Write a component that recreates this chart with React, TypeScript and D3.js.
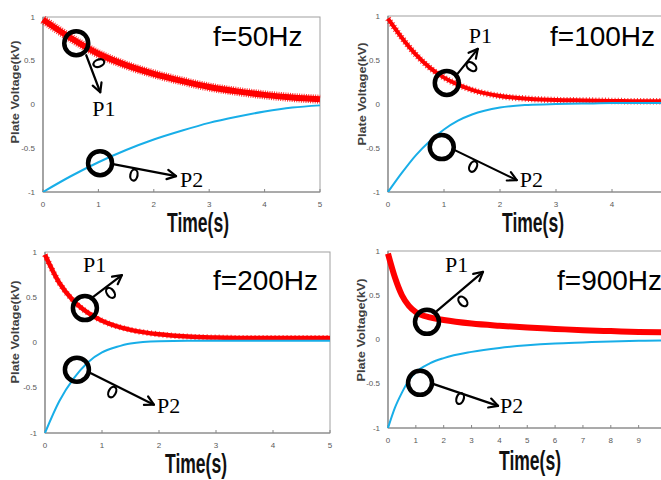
import React from 'react';
import * as d3 from 'd3';

const W = 661;
const H = 480;

// ---- data: plate voltages (kV) over time (s) ----
const time50 = [0, 0.5, 1, 1.5, 2, 2.5, 3, 3.5, 4, 4.5, 5];
const p1At50 = [0.97, 0.76, 0.58, 0.45, 0.35, 0.27, 0.2, 0.15, 0.11, 0.08, 0.06];
const p2At50 = [-1, -0.82, -0.66, -0.52, -0.4, -0.3, -0.21, -0.14, -0.08, -0.035, -0.01];

const time100 = [0, 0.25, 0.5, 0.75, 1, 1.25, 1.5, 2, 2.5, 3, 3.5, 4, 4.5, 5];
const p1At100 = [0.97, 0.75, 0.56, 0.41, 0.3, 0.22, 0.16, 0.09, 0.06, 0.045, 0.04, 0.035, 0.03, 0.03];
const p2At100 = [-1, -0.78, -0.58, -0.42, -0.29, -0.19, -0.12, -0.04, -0.01, 0, 0.005, 0.01, 0.01, 0.01];

const time200 = [0, 0.25, 0.5, 0.75, 1, 1.25, 1.5, 2, 2.5, 3, 3.5, 4, 4.5, 5];
const p1At200 = [0.97, 0.66, 0.46, 0.33, 0.24, 0.18, 0.14, 0.09, 0.065, 0.055, 0.05, 0.05, 0.05, 0.05];
const p2At200 = [-1, -0.65, -0.4, -0.22, -0.11, -0.05, -0.01, 0.015, 0.02, 0.02, 0.02, 0.02, 0.02, 0.02];

const time900 = [0, 0.25, 0.5, 0.75, 1, 1.5, 2, 3, 4, 5, 6, 7, 8, 9, 10];
const p1At900 = [0.97, 0.7, 0.5, 0.38, 0.31, 0.25, 0.22, 0.18, 0.155, 0.135, 0.12, 0.105, 0.095, 0.085, 0.08];
const p2At900 = [-1, -0.77, -0.6, -0.46, -0.37, -0.27, -0.21, -0.14, -0.095, -0.065, -0.045, -0.033, -0.022, -0.015, -0.01];

const yTicks = [1, 0.5, 0, -0.5, -1];
const xTicks5 = [0, 1, 2, 3, 4, 5];
const xTicks10 = [0, 1, 2, 3, 4, 5, 6, 7, 8, 9, 10];

const RED = '#ff0000';
const BLUE = '#18aee8';
const SANS = '"Liberation Sans", Arial, sans-serif';
const SERIF = '"Liberation Serif", "Times New Roman", serif';

type Note = {
  label: string;
  t: number;
  v: number;
  start: [number, number];
  loop: [number, number];
  tip: [number, number];
  text: [number, number];
  side: number;
};

type Panel = {
  freq: string;
  time: number[];
  p1: number[];
  p2: number[];
  xMax: number;
  xTicks: number[];
  left: number;
  right: number;
  top: number;
  bottom: number;
  freqPos: [number, number];
  yTitle: [number, number];
  xTitle: [number, number];
  redWidth: number;
  rippleWidth: number;
  rippleDash: string;
  notes: Note[];
};

const panels: Panel[] = [
  {
    freq: 'f=50Hz', time: time50, p1: p1At50, p2: p2At50, xMax: 5, xTicks: xTicks5,
    left: 43, right: 320, top: 17, bottom: 192,
    freqPos: [213, 46], yTitle: [15, 92], xTitle: [198, 232],
    redWidth: 6, rippleWidth: 9, rippleDash: '1 1.3',
    notes: [
      { label: 'P1', t: 0.6, v: 0.7, start: [10, 12], loop: [17, 22], tip: [24, 49], text: [16, 73], side: -1 },
      { label: 'P2', t: 1.03, v: -0.67, start: [13, 1], loop: [35, 6], tip: [76, 13], text: [80, 24], side: 1 },
    ],
  },
  {
    freq: 'f=100Hz', time: time100, p1: p1At100, p2: p2At100, xMax: 5, xTicks: xTicks5,
    left: 388, right: 668, top: 16, bottom: 192,
    freqPos: [550, 46], yTitle: [362, 94], xTitle: [533, 232],
    redWidth: 4, rippleWidth: 6.5, rippleDash: '1 2.2',
    notes: [
      { label: 'P1', t: 1.05, v: 0.24, start: [9, -7], loop: [20, -20], tip: [31, -34], text: [22, -40], side: 1 },
      { label: 'P2', t: 0.96, v: -0.49, start: [13, 3], loop: [34, 14], tip: [75, 33], text: [78, 40], side: 1 },
    ],
  },
  {
    freq: 'f=200Hz', time: time200, p1: p1At200, p2: p2At200, xMax: 5, xTicks: xTicks5,
    left: 45, right: 330, top: 252, bottom: 433,
    freqPos: [213, 290], yTitle: [15, 332], xTitle: [196, 473],
    redWidth: 4.5, rippleWidth: 6, rippleDash: '1 3',
    notes: [
      { label: 'P1', t: 0.7, v: 0.38, start: [8, -11], loop: [22, -20], tip: [37, -33], text: [-2, -36], side: 1 },
      { label: 'P2', t: 0.56, v: -0.3, start: [13, 3], loop: [38, 17], tip: [77, 35], text: [80, 43], side: 1 },
    ],
  },
  {
    freq: 'f=900Hz', time: time900, p1: p1At900, p2: p2At900, xMax: 10, xTicks: xTicks10,
    left: 388, right: 666.5, top: 251, bottom: 428,
    freqPos: [557, 290], yTitle: [361, 330], xTitle: [530, 470],
    redWidth: 6, rippleWidth: 6, rippleDash: '',
    notes: [
      { label: 'P1', t: 1.4, v: 0.2, start: [10, -11], loop: [32, -25], tip: [56, -50], text: [18, -50], side: 1 },
      { label: 'P2', t: 1.15, v: -0.49, start: [13, 1], loop: [42, 10], tip: [78, 23], text: [80, 30], side: 1 },
    ],
  },
];

function Annotation({ note, cx, cy }: { note: Note; cx: number; cy: number }) {
  const sx = cx + note.start[0];
  const sy = cy + note.start[1];
  const lx = cx + note.loop[0];
  const ly = cy + note.loop[1];
  const tx = cx + note.tip[0];
  const ty = cy + note.tip[1];
  const dx = tx - sx;
  const dy = ty - sy;
  const len = Math.hypot(dx, dy);
  const ux = dx / len;
  const uy = dy / len;
  const nx = -uy * note.side;
  const ny = ux * note.side;
  const angle = (Math.atan2(uy, ux) * 180) / Math.PI;
  const head = 10;
  const spread = (28 * Math.PI) / 180;
  const back = Math.atan2(-uy, -ux);
  const h1x = tx + head * Math.cos(back + spread);
  const h1y = ty + head * Math.sin(back + spread);
  const h2x = tx + head * Math.cos(back - spread);
  const h2y = ty + head * Math.sin(back - spread);
  const ex = lx + nx * 6;
  const ey = ly + ny * 6;
  return (
    <g fill="none" stroke="#000" strokeLinecap="round" strokeLinejoin="round">
      <circle cx={cx} cy={cy} r={12} strokeWidth={4.5} />
      <path d={`M${sx},${sy}L${tx},${ty}`} strokeWidth={2.2} />
      <ellipse cx={ex} cy={ey} rx={3.6} ry={5.6} transform={`rotate(${angle},${ex},${ey})`} strokeWidth={2.2} />
      <path d={`M${h1x},${h1y}L${tx},${ty}L${h2x},${h2y}`} strokeWidth={2.2} />
      <text x={cx + note.text[0]} y={cy + note.text[1]} fill="#000" stroke="none" fontFamily={SERIF} fontSize={22}>
        {note.label}
      </text>
    </g>
  );
}

function PanelChart({ p, idx }: { p: Panel; idx: number }) {
  const x = d3.scaleLinear().domain([0, p.xMax]).range([p.left, p.right]);
  const y = d3.scaleLinear().domain([-1, 1]).range([p.bottom, p.top]);
  const pts1 = p.time.map((t, i) => [t, p.p1[i]] as [number, number]);
  const pts2 = p.time.map((t, i) => [t, p.p2[i]] as [number, number]);
  const gen = d3
    .line<[number, number]>()
    .x((d) => x(d[0]))
    .y((d) => y(d[1]))
    .curve(d3.curveMonotoneX);
  const clipId = `plot-clip-${idx}`;
  const axisColor = '#868686';
  // only label ticks that fall inside the drawing
  const shownTicks = p.xTicks.filter((t) => x(t) <= W - 1);
  return (
    <g>
      <defs>
        <clipPath id={clipId}>
          <rect x={p.left - 3} y={p.top - 4} width={p.right - p.left + 6} height={p.bottom - p.top + 4} />
        </clipPath>
      </defs>
      <rect x={p.left} y={p.top} width={p.right - p.left} height={p.bottom - p.top} fill="#fff" stroke="#a0a0a0" strokeWidth={1} />
      <line x1={p.left} x2={p.left} y1={p.top} y2={p.bottom} stroke={axisColor} strokeWidth={1.2} />
      <line x1={p.left} x2={p.right} y1={p.bottom} y2={p.bottom} stroke={axisColor} strokeWidth={1.2} />
      {shownTicks.map((t) => (
        <line key={`xt${t}`} x1={x(t)} x2={x(t)} y1={p.bottom} y2={p.bottom - 3} stroke={axisColor} strokeWidth={1} />
      ))}
      {yTicks.map((v) => (
        <text key={`yl${v}`} x={p.left - 8} y={y(v)} textAnchor="end" dominantBaseline="central" fontFamily={SANS} fontSize={8} fill="#595959">
          {String(v)}
        </text>
      ))}
      {shownTicks.map((t) => (
        <text key={`xl${t}`} x={x(t)} y={p.bottom + 15} textAnchor="middle" fontFamily={SANS} fontSize={8} fill="#595959">
          {String(t)}
        </text>
      ))}
      <g clipPath={`url(#${clipId})`}>
        {p.rippleDash && (
          <path d={gen(pts1) ?? ''} fill="none" stroke={RED} strokeWidth={p.rippleWidth} strokeDasharray={p.rippleDash} opacity={0.8} />
        )}
        <path d={gen(pts1) ?? ''} fill="none" stroke={RED} strokeWidth={p.redWidth} />
        <path d={gen(pts2) ?? ''} fill="none" stroke={BLUE} strokeWidth={2} />
      </g>
      <text
        transform={`translate(${p.yTitle[0]},${p.yTitle[1]}) rotate(-90)`}
        textAnchor="middle"
        dominantBaseline="central"
        fontFamily={SANS}
        fontWeight="bold"
        fontSize={10}
        fill="#404040"
        textLength={103}
        lengthAdjust="spacingAndGlyphs"
      >
        Plate Voltage(kV)
      </text>
      <text
        x={p.xTitle[0] - 31}
        y={p.xTitle[1]}
        fontFamily={SANS}
        fontWeight="bold"
        fontSize={27}
        fill="#111"
        textLength={62}
        lengthAdjust="spacingAndGlyphs"
      >
        Time(s)
      </text>
      <text x={p.freqPos[0]} y={p.freqPos[1]} fontFamily={SANS} fontSize={28} fill="#000">
        {p.freq}
      </text>
      {p.notes.map((n) => (
        <Annotation key={n.label} note={n} cx={x(n.t)} cy={y(n.v)} />
      ))}
    </g>
  );
}

export default function App() {
  return (
    <div style={{ position: 'absolute', left: 0, top: 0, width: W, height: H }}>
      <svg width={W} height={H} viewBox={`0 0 ${W} ${H}`} style={{ display: 'block', background: '#fff' }}>
        <rect x={0} y={0} width={W} height={H} fill="#fff" />
        {panels.map((p, i) => (
          <PanelChart key={p.freq} p={p} idx={i} />
        ))}
      </svg>
    </div>
  );
}
